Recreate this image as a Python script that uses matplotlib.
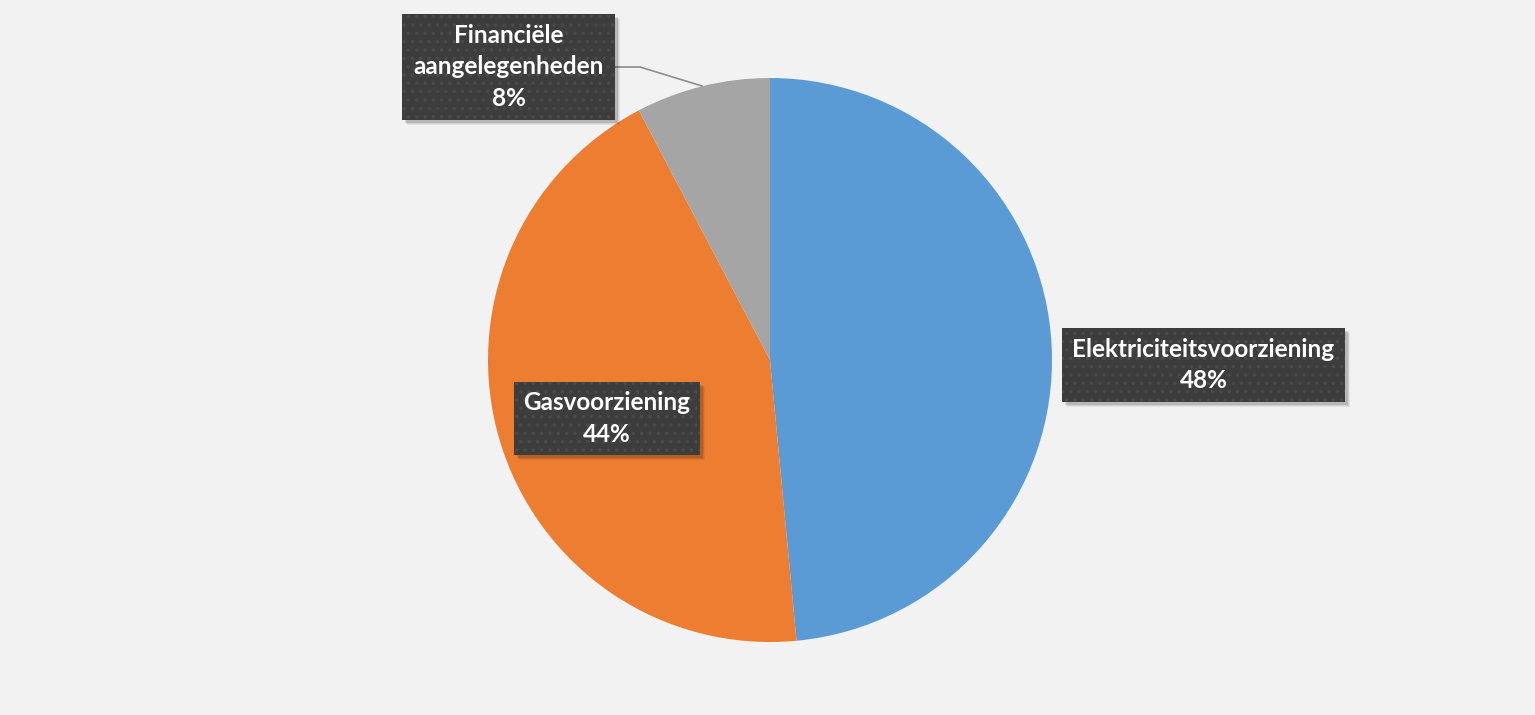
import matplotlib.pyplot as plt
from matplotlib.patches import Rectangle

# data
categories = ['Elektriciteitsvoorziening', 'Gasvoorziening', 'Financiële\naangelegenheden']
shares = [48.5, 43.8, 7.7]
pct_labels = ['48%', '44%', '8%']
colors = ['#5b9bd5', '#ed7d31', '#a5a5a5']

# label boxes (pixel coords, y from top): x0, y0, width, height
boxes = [(1062, 328, 283, 74), (514, 382, 186, 73), (402, 14, 213, 106)]

W, H = 1535, 715
fig = plt.figure(figsize=(W / 100, H / 100), dpi=100)
fig.patch.set_facecolor('#f2f2f2')
ax = fig.add_axes([0, 0, 1, 1])

cx, cy, r = 770, H - 360, 282
ax.pie(shares, colors=colors, startangle=90, counterclock=False,
       center=(cx, cy), radius=r, frame=True,
       wedgeprops=dict(linewidth=0))
ax.set_xlim(0, W)
ax.set_ylim(0, H)
ax.set_aspect('equal')
ax.axis('off')

# leader line for the small slice
ax.plot([615, 640, 702], [H - 67, H - 67, H - 86], color='#8c8c8c', lw=1.2, zorder=3)

plt.rcParams['hatch.linewidth'] = 1.3
for (x0, y0, bw, bh), name, pct in zip(boxes, categories, pct_labels):
    # soft shadow
    for k, a in [(5, 0.06), (4, 0.08), (3, 0.12)]:
        ax.add_patch(Rectangle((x0 + k, H - y0 - bh - k), bw, bh, facecolor='black',
                               alpha=a, linewidth=0, zorder=3.5))
    ax.add_patch(Rectangle((x0, H - y0 - bh), bw, bh, facecolor='#3d3d3d',
                           edgecolor='#4a4a4a', linewidth=0, hatch='..', zorder=4))
    ax.text(x0 + bw / 2, H - y0 - bh / 2, name + '\n' + pct, ha='center', va='center',
            color='white', fontsize=17.5, fontweight='bold', family=['Lato', 'DejaVu Sans'],
            linespacing=1.45, zorder=5)

fig.savefig('out.png', dpi=100, facecolor=fig.get_facecolor())
